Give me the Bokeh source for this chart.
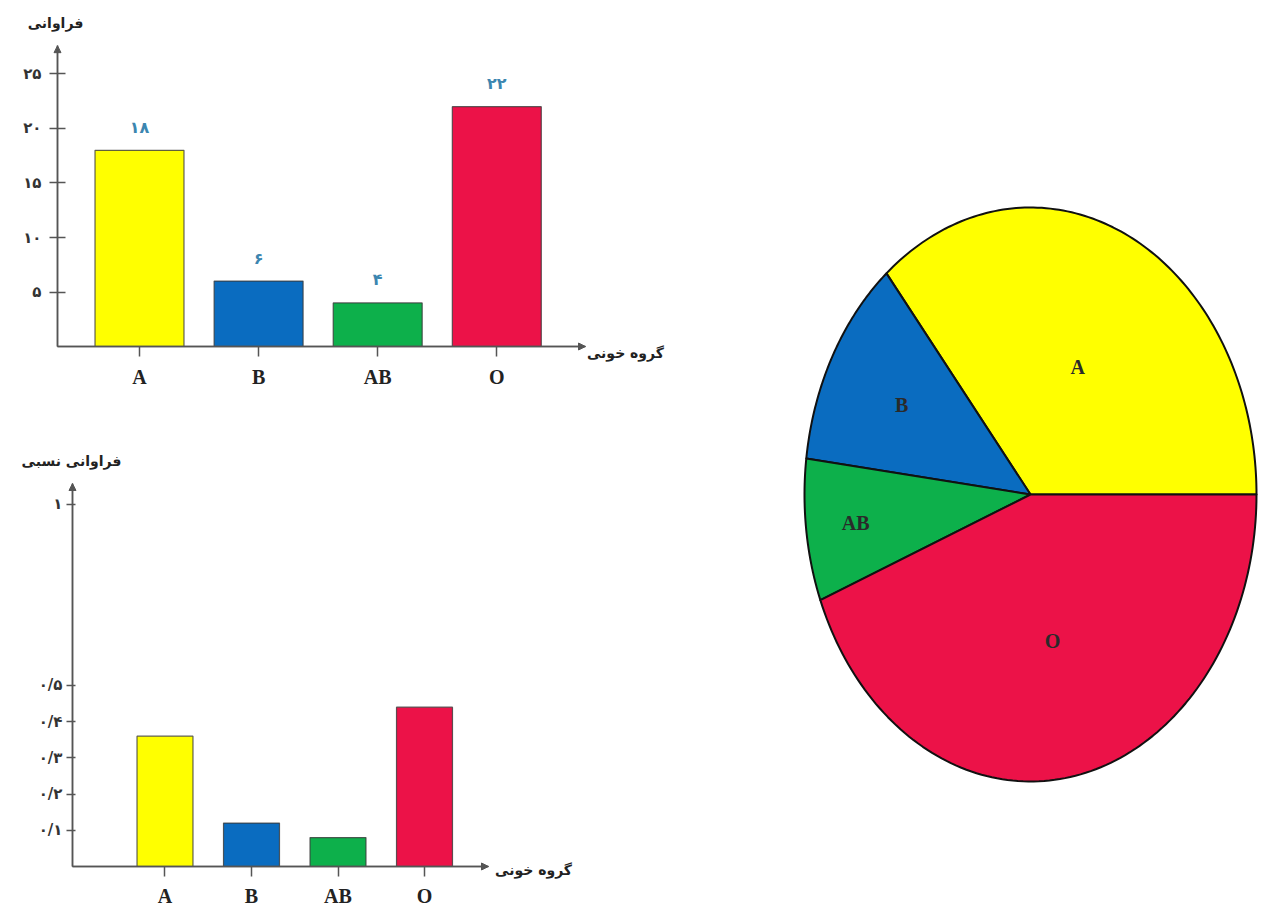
import numpy as np
from bokeh.plotting import figure
from bokeh.layouts import row, column
from bokeh.models import (Range1d, FixedTicker, Arrow, NormalHead, Label,
                          ColumnDataSource, LinearAxis)
from bokeh.core.properties import value
from bokeh.embed import file_html
from bokeh.resources import INLINE

# ---------------- data ----------------
groups = ["A", "B", "AB", "O"]
freq = [18, 6, 4, 22]
rel_freq = [0.36, 0.12, 0.08, 0.44]
colors = ["#FFFF00", "#0A6CC0", "#0DB04B", "#EC1248"]
freq_ticks = [5, 10, 15, 20, 25]
freq_tick_labels = ["۵", "۱۰", "۱۵", "۲۰", "۲۵"]
rel_ticks = [0.1, 0.2, 0.3, 0.4, 0.5, 1.0]
rel_tick_labels = ["۰/۱", "۰/۲", "۰/۳", "۰/۴", "۰/۵", "۱"]
freq_title = "فراوانی"
rel_title = "فراوانی نسبی"
x_title = "گروه خونی"

FA = str.maketrans("0123456789", "۰۱۲۳۴۵۶۷۸۹")
def fa(v):
    return str(v).translate(FA)

AXIS = "#555555"
FA_FONT = "DejaVu Sans"
LAT_FONT = "Liberation Serif"
pos = list(range(1, len(groups) + 1))


def make_panel(width, height, xr, yr, x0, xtip, ytip, yticks, ylabels,
               tick_in, tick_out, ystandoff, xstandoff):
    p = figure(width=width, height=height, x_range=xr, y_range=yr,
               x_axis_location=None, y_axis_location=None,
               output_backend="svg", toolbar_location=None,
               min_border=0, min_border_left=0, min_border_right=0,
               min_border_top=0, min_border_bottom=0)
    p.title.visible = False
    p.grid.visible = False
    p.outline_line_color = None

    xax = LinearAxis(fixed_location=0, bounds=(x0, xtip),
                     ticker=FixedTicker(ticks=pos),
                     major_label_overrides={k: g for k, g in zip(pos, groups)})
    xax.major_tick_in = 0
    xax.major_tick_out = 10
    xax.major_label_standoff = xstandoff
    xax.major_label_text_font = LAT_FONT
    xax.major_label_text_font_style = "bold"
    xax.major_label_text_font_size = "20px"
    xax.major_label_text_color = "#222222"

    yax = LinearAxis(fixed_location=x0, bounds=(0, ytip),
                     ticker=FixedTicker(ticks=yticks),
                     major_label_overrides={k: l for k, l in zip(yticks, ylabels)})
    yax.major_tick_in = tick_in
    yax.major_tick_out = tick_out
    yax.major_label_standoff = ystandoff
    yax.major_label_text_font = FA_FONT
    yax.major_label_text_font_style = "bold"
    yax.major_label_text_font_size = "15px"
    yax.major_label_text_color = "#333333"

    for ax in (xax, yax):
        ax.axis_line_color = AXIS
        ax.axis_line_width = 1.5
        ax.major_tick_line_color = AXIS
        ax.major_tick_line_width = 1.5
        ax.minor_tick_line_color = None
    p.add_layout(xax, "below")
    p.add_layout(yax, "left")

    for xs, ys, xe, ye in [(x0, 0, xtip, 0), (x0, 0, x0, ytip)]:
        p.add_layout(Arrow(end=NormalHead(size=7, fill_color=AXIS, line_color=AXIS),
                           x_start=xs, y_start=ys, x_end=xe, y_end=ye,
                           line_color=AXIS, line_width=1.5))
    return p


def persian_label(p, x, y, text):
    p.add_layout(Label(x=x, y=y, text=text, text_align="center", text_baseline="middle",
                       text_font=FA_FONT, text_font_style="bold", text_font_size="14px",
                       text_color="#222222"))


# ---------------- top: frequency ----------------
# page px: x = 139 + (x-1)*119.1 ; y = 346 - v*10.9
p1 = make_panel(680, 400, Range1d(-0.1671, 5.5424), Range1d(-4.954, 31.743),
                x0=0.3115, xtip=4.745, ytip=27.6,
                yticks=freq_ticks, ylabels=freq_tick_labels,
                tick_in=8, tick_out=8, ystandoff=8, xstandoff=9)
src1 = ColumnDataSource(dict(x=pos, top=freq, color=colors, lab=[fa(v) for v in freq]))
p1.vbar(x="x", top="top", bottom=0, width=0.747, source=src1, fill_color="color",
        line_color="#3a3a3a", line_width=1.2, line_alpha=0.8)
p1.text(x="x", y="top", text="lab", source=src1, y_offset=-23,
        text_align="center", text_baseline="middle", text_font=value(FA_FONT),
        text_font_style="bold", text_font_size="16px", text_color="#3C86B0")
persian_label(p1, 0.2947, 29.72, freq_title)
persian_label(p1, 5.08, -0.6, x_title)

# ---------------- bottom: relative frequency ----------------
# page px: x = 164.5 + (x-1)*86.5 ; y = 866 - v*362 (canvas offset 400)
p2 = make_panel(680, 515, Range1d(-0.9017, 6.9595), Range1d(-0.1354, 1.2873),
                x0=-0.0694, xtip=4.74, ytip=1.058,
                yticks=rel_ticks, ylabels=rel_tick_labels,
                tick_in=3, tick_out=6, ystandoff=4, xstandoff=9)
src2 = ColumnDataSource(dict(x=pos, top=rel_freq, color=colors))
p2.vbar(x="x", top="top", bottom=0, width=0.647, source=src2, fill_color="color",
        line_color="#3a3a3a", line_width=1.2, line_alpha=0.8)
persian_label(p2, -0.0809, 1.1188, rel_title)
persian_label(p2, 5.26, -0.01, x_title)

# ---------------- pie ----------------
# page px: centre (1030, 494), rx 226, ry 287
p3 = figure(width=588, height=915, x_range=Range1d(-1.5487, 1.0531),
            y_range=Range1d(-1.4669, 1.7213),
            output_backend="svg", toolbar_location=None,
            x_axis_location=None, y_axis_location=None,
            min_border=0, min_border_left=0, min_border_right=0,
            min_border_top=0, min_border_bottom=0)
p3.title.visible = False
p3.grid.visible = False
p3.outline_line_color = None

total = float(sum(freq))
ends = np.cumsum(freq) / total * 2 * np.pi
starts = np.concatenate([[0.0], ends[:-1]])
xs, ys = [], []
for a0, a1 in zip(starts, ends):
    t = np.linspace(a0, a1, 120)
    xs.append(np.concatenate([[0.0], np.cos(t), [0.0]]))
    ys.append(np.concatenate([[0.0], np.sin(t), [0.0]]))
p3.patches(xs, ys, fill_color=colors, line_color="#111111", line_width=2, line_join="round")

label_r = [0.49, 0.65, 0.78, 0.52]
mids = (starts + ends) / 2
p3.text(x=[r * np.cos(m) for r, m in zip(label_r, mids)],
        y=[r * np.sin(m) for r, m in zip(label_r, mids)],
        text=groups, text_align="center", text_baseline="middle",
        text_font=value(LAT_FONT), text_font_style="bold", text_font_size="20px",
        text_color="#2a2a2a")

layout = row(column(p1, p2), p3)
open("out.html", "w").write(file_html(layout, INLINE))
